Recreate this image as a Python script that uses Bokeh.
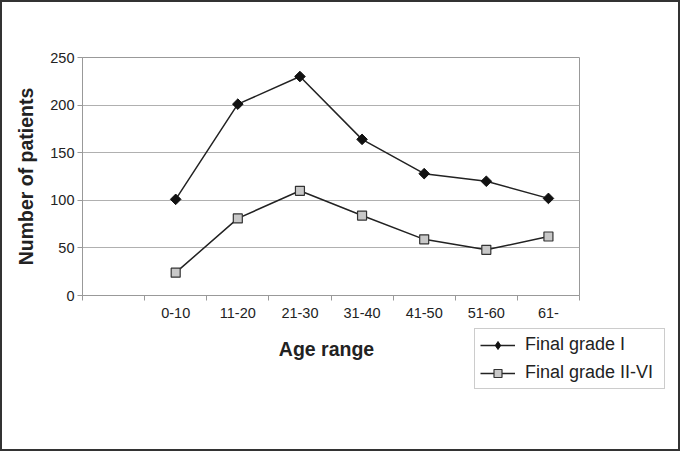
import math
from bokeh.plotting import figure
from bokeh.layouts import column
from bokeh.models import FixedTicker, Legend, LegendItem, Range1d, Label
from bokeh.embed import file_html
from bokeh.resources import INLINE

categories = ["", "0-10", "11-20", "21-30", "31-40", "41-50", "51-60", "61-"]
age_ranges = ["0-10", "11-20", "21-30", "31-40", "41-50", "51-60", "61-"]
grade_I = [101, 201, 230, 164, 128, 120, 102]
grade_II_VI = [24, 81, 110, 84, 59, 48, 62]
y_ticks = [0, 50, 100, 150, 200, 250]
series_names = ["Final grade I", "Final grade II-VI"]

FONT = "Liberation Sans"
W = 676

centers = {c: i + 0.5 for i, c in enumerate(categories)}
xs = [centers[c] for c in age_ranges]

# ---------------- main chart ----------------
p = figure(width=W, height=325, output_backend="svg", toolbar_location=None,
           x_range=Range1d(0, len(categories)), y_range=Range1d(0, 250),
           frame_width=497, frame_height=238,
           min_border_left=80, min_border_top=55, min_border_right=99, min_border_bottom=32)
p.background_fill_color = "white"
p.border_fill_color = "white"
p.outline_line_color = "#999999"
p.outline_line_width = 1

p.xgrid.visible = False
p.ygrid.ticker = FixedTicker(ticks=y_ticks)
p.ygrid.grid_line_color = "#b0b0b0"
p.ygrid.grid_line_width = 1

p.yaxis.ticker = FixedTicker(ticks=y_ticks)
p.yaxis.axis_line_color = "#999999"
p.yaxis.major_tick_line_color = "#999999"
p.yaxis.major_tick_out = 5
p.yaxis.major_tick_in = 0
p.yaxis.minor_tick_line_color = None
p.yaxis.major_label_text_font = FONT
p.yaxis.major_label_text_font_size = "14.5px"
p.yaxis.major_label_text_color = "#222222"
p.yaxis.major_label_standoff = 3
p.yaxis.axis_label = "Number of patients"
p.yaxis.axis_label_text_font = FONT
p.yaxis.axis_label_text_font_size = "19.5px"
p.yaxis.axis_label_text_font_style = "bold"
p.yaxis.axis_label_text_color = "#222222"
p.yaxis.axis_label_standoff = 10

p.xaxis.ticker = FixedTicker(ticks=[centers[c] for c in categories],
                             minor_ticks=list(range(len(categories) + 1)))
p.xaxis.major_label_overrides = {centers[c]: c for c in categories}
p.xaxis.axis_line_color = "#999999"
p.xaxis.major_tick_line_color = None
p.xaxis.major_tick_out = 5
p.xaxis.major_tick_in = 0
p.xaxis.minor_tick_line_color = "#999999"
p.xaxis.minor_tick_out = 5
p.xaxis.minor_tick_in = 0
p.xaxis.major_label_text_font = FONT
p.xaxis.major_label_text_font_size = "14.5px"
p.xaxis.major_label_text_color = "#222222"
p.xaxis.major_label_standoff = 7

line_kw = dict(line_color="#222222", line_width=1.5)
m1_kw = dict(marker="square", angle=math.pi / 4, size=7.5, fill_color="#111111", line_color="#111111")
m1_legend_kw = dict(marker="diamond", size=13, fill_color="#111111", line_color="#111111")
m2_kw = dict(marker="square", size=9, fill_color="#c8c8c8", line_color="#333333", line_width=1.2)

p.line(xs, grade_I, **line_kw)
p.scatter(xs, grade_I, **m1_kw)
p.line(xs, grade_II_VI, **line_kw)
p.scatter(xs, grade_II_VI, **m2_kw)

# ---------------- lower strip: x-axis title and legend ----------------
q = figure(width=W, height=122, output_backend="svg", toolbar_location=None,
           x_range=Range1d(0, 1), y_range=Range1d(0, 1),
           frame_width=W, frame_height=122,
           min_border_left=0, min_border_right=0, min_border_top=0, min_border_bottom=0,
           x_axis_location=None, y_axis_location=None)
q.grid.visible = False
q.outline_line_color = None
q.background_fill_color = "white"
q.border_fill_color = "white"

q.add_layout(Label(x=244, y=101, x_units="screen", y_units="screen", text="Age range",
                   text_align="center", text_baseline="alphabetic",
                   text_font=FONT, text_font_size="19.5px", text_font_style="bold",
                   text_color="#222222"))

# legend proxies: same series, lying outside this strip's (hidden) ranges
ql1 = q.line(xs[:1], grade_I[:1], **line_kw)
qm1 = q.scatter(xs[:1], grade_I[:1], **m1_legend_kw)
ql2 = q.line(xs[:1], grade_II_VI[:1], **line_kw)
qm2 = q.scatter(xs[:1], grade_II_VI[:1], **m2_kw)

legend = Legend(items=[LegendItem(label=series_names[0], renderers=[ql1, qm1]),
                       LegendItem(label=series_names[1], renderers=[ql2, qm2])],
                location=(472, 60))
legend.label_text_font = FONT
legend.label_text_font_size = "18px"
legend.label_text_color = "#222222"
legend.border_line_color = "#999999"
legend.border_line_width = 1
legend.background_fill_alpha = 1
legend.glyph_width = 35
legend.glyph_height = 20
legend.label_height = 20
legend.label_width = 134
legend.label_standoff = 10
legend.spacing = 7
legend.padding = 5
legend.margin = 0
q.add_layout(legend, "center")

layout = column(p, q, spacing=0, styles={"border": "2px solid #333"})

open("out.html", "w").write(file_html(layout, INLINE))
